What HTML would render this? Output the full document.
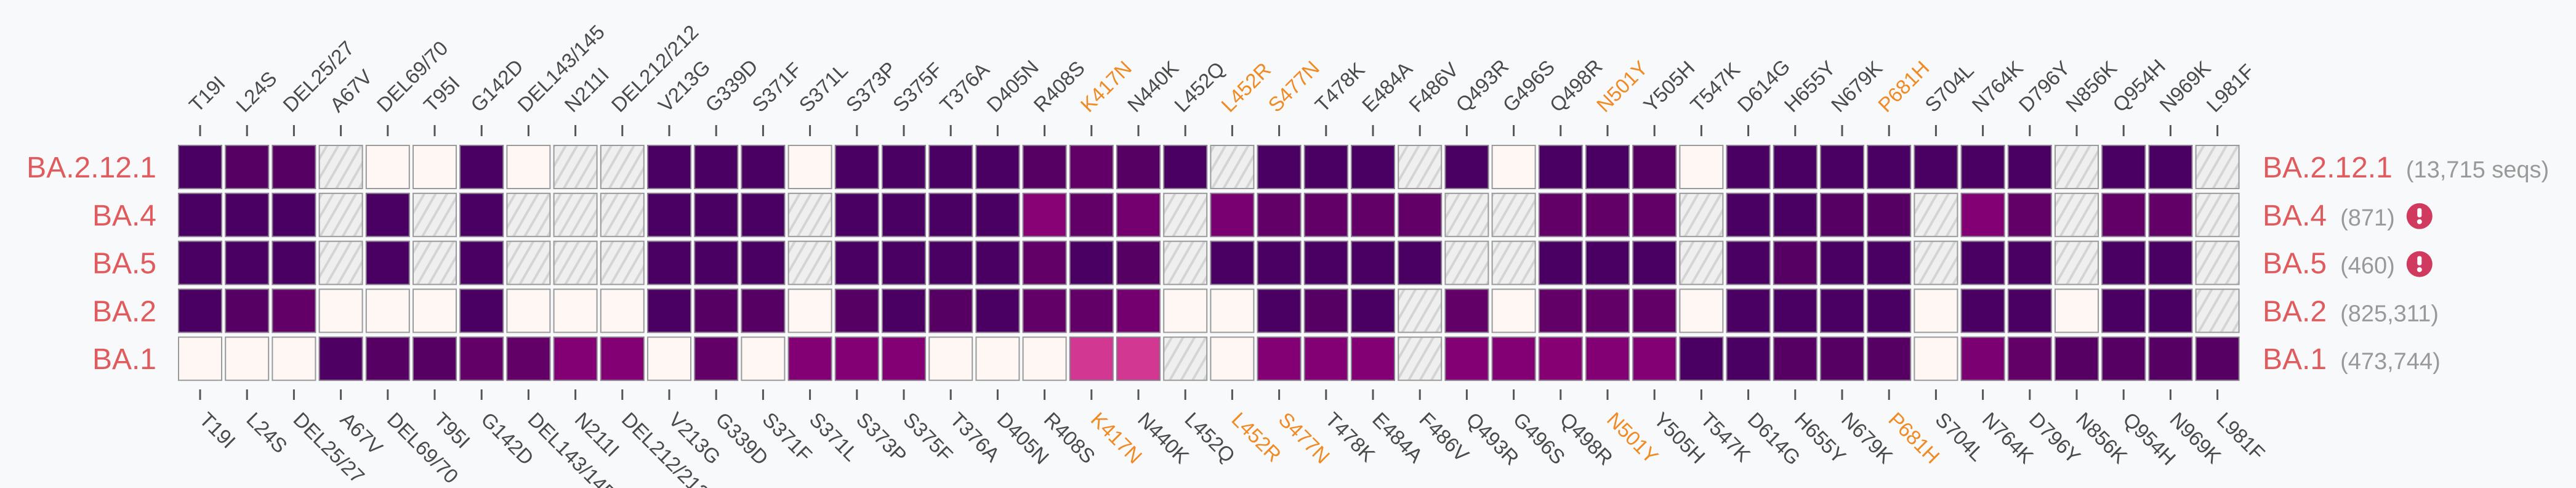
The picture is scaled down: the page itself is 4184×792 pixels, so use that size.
<!DOCTYPE html>
<html><head><meta charset="utf-8"><style>
html,body{margin:0;padding:0;background:#f8f9fa;overflow:hidden;}
svg{display:block;font-family:"Liberation Sans",sans-serif;}
</style></head><body>
<svg id="chart" width="4184" height="792" viewBox="0 0 4184 792" xmlns="http://www.w3.org/2000/svg">
<defs>
<pattern id="hatch" patternUnits="userSpaceOnUse" width="16" height="16" patternTransform="rotate(30)">
<rect width="16" height="16" fill="#efefef"/>
<rect x="0" y="0" width="4" height="16" fill="#d4d4d4"/>
</pattern>
</defs>
<rect width="4184" height="792" fill="#f8f9fa"/>
<g id="cells"></g>
<g id="ticks"></g>
<g id="labels"></g>
</svg>
<script>
const mutations = ["T19I","L24S","DEL25/27","A67V","DEL69/70","T95I","G142D","DEL143/145","N211I","DEL212/212","V213G","G339D","S371F","S371L","S373P","S375F","T376A","D405N","R408S","K417N","N440K","L452Q","L452R","S477N","T478K","E484A","F486V","Q493R","G496S","Q498R","N501Y","Y505H","T547K","D614G","H655Y","N679K","P681H","S704L","N764K","D796Y","N856K","Q954H","N969K","L981F"];
const highlighted = ["K417N","L452R","S477N","N501Y","P681H"];
const lineages = ["BA.2.12.1","BA.4","BA.5","BA.2","BA.1"];
const counts = ["(13,715 seqs)","(871)","(460)","(825,311)","(473,744)"];
const flagged = [false,true,true,false,false];
// frequency values; 0 = absent, null = no coverage
const rowBA2121 = [1,0.97,0.97,null,0,0,1,0,null,null,1,1,1,0,1,1,1,1,0.97,0.94,0.97,1,null,1,1,1,null,1,0,1,1,0.97,0,1,1,1,1,1,1,1,null,1,1,null];
const rowBA4 = [1,1,1,null,1,null,1,null,null,null,1,1,1,null,1,1,1,1,0.84,0.94,0.9,null,0.89,0.94,0.94,0.94,0.94,null,null,0.94,0.94,0.94,null,1,1,0.97,0.97,null,0.86,0.94,null,0.94,0.94,null];
const rowBA5 = [1,1,1,null,1,null,1,null,null,null,1,1,1,null,1,1,1,1,0.94,1,0.97,null,1,1,1,1,1,null,null,1,1,1,null,1,0.97,1,1,null,1,1,null,1,1,null];
const rowBA2 = [1,0.97,0.94,0,0,0,1,0,0,0,1,0.97,0.97,0,0.97,1,0.97,1,0.94,0.94,0.9,0,0,1,0.97,1,null,0.94,0,0.94,0.94,0.94,0,1,1,1,1,0,1,1,0,1,1,null];
const rowBA1 = [0,0,0,0.99,0.97,0.97,0.94,0.94,0.86,0.86,0,0.94,0,0.86,0.86,0.86,0,0,0,0.62,0.62,null,0,0.86,0.86,0.86,null,0.86,0.86,0.85,0.86,0.86,1,1,0.97,0.97,0.97,0,0.88,0.94,0.97,0.97,0.97,0.97];
const rows = [rowBA2121,rowBA4,rowBA5,rowBA2,rowBA1];
const colorStops = [[0.6,[217,60,148]],[0.85,[134,0,116]],[0.9,[116,0,112]],[0.94,[98,0,104]],[0.97,[86,0,100]],[1,[74,0,98]]];

const X0=290, PITCH=76.2, CW=70, Y0=236, RP=77.8, CH=70;
const xPos = i => X0 + i*PITCH;
const yPos = r => Y0 + r*RP;
function color(v){
  if(v<=colorStops[0][0]) return `rgb(${colorStops[0][1].join(',')})`;
  for(let k=1;k<colorStops.length;k++){
    const [t1,c1]=colorStops[k-1],[t2,c2]=colorStops[k];
    if(v<=t2){const f=(v-t1)/(t2-t1);return `rgb(${c1.map((c,j)=>Math.round(c+(c2[j]-c)*f)).join(',')})`;}
  }
  return `rgb(${colorStops[colorStops.length-1][1].join(',')})`;
}
const NS="http://www.w3.org/2000/svg";
function mk(tag,attrs,parent){const e=document.createElementNS(NS,tag);for(const k in attrs)e.setAttribute(k,attrs[k]);parent.appendChild(e);return e;}
const gC=document.getElementById('cells'),gT=document.getElementById('ticks'),gL=document.getElementById('labels');

rows.forEach((row,r)=>{
  row.slice(0,mutations.length).forEach((v,i)=>{
    let fill = v===null ? 'url(#hatch)' : (v===0 ? '#fff7f3' : color(v));
    const stroke = (v===null||v===0) ? '#9a9a9a' : '#8a7f8e';
    const c=mk('rect',{x:xPos(i),y:yPos(r),width:CW,height:CH,fill:fill,stroke:stroke,'stroke-width':2},gC);
    
    
  });
});
mutations.forEach((m,i)=>{
  const cx=xPos(i)+CW/2;
  const t1=mk('line',{x1:cx,y1:203,x2:cx,y2:221,stroke:'#555',"stroke-width":3},gT);
  
  
  const t2=mk('line',{x1:cx,y1:632,x2:cx,y2:649,stroke:'#555',"stroke-width":3},gT);
  
  
  const col=highlighted.includes(m)?'#f08a24':'#4a4a4a';
  const a=mk('text',{x:cx-4,y:184,'font-size':33,fill:col,transform:`rotate(-45 ${cx-4} 184)`},gL);
  a.textContent=m;
  
  
  const b=mk('text',{x:cx-3,y:683,'font-size':33,fill:col,transform:`rotate(45 ${cx-3} 683)`},gL);
  b.textContent=m;
  
  
});
lineages.forEach((l,r)=>{
  const cy=yPos(r)+CH/2+17;
  const a=mk('text',{x:254,y:cy,'font-size':48,fill:'#df5b5e','text-anchor':'end'},gL);
  a.textContent=l;
  
  
  const b=mk('text',{x:3675,y:cy,'font-size':48,fill:'#df5b5e'},gL);
  b.textContent=l;
  
  
  const w=b.getComputedTextLength();
  const c=mk('text',{x:3675+w+22,y:cy,'font-size':38,fill:'#999'},gL);
  c.textContent=counts[r];
  
  
  if(flagged[r]){
    const cw=c.getComputedTextLength();
    const ix=3675+w+22+cw+40, iy=yPos(r)+CH/2+2;
    const g=mk('g',{},gL);
    
    
    mk('circle',{cx:ix,cy:iy,r:21,fill:'#d03a5e'},g);
    mk('rect',{x:ix-3.5,y:iy-13,width:7,height:15,rx:3,fill:'#fff'},g);
    mk('circle',{cx:ix,cy:iy+9,r:4,fill:'#fff'},g);
  }
});
</script>
</body></html>
